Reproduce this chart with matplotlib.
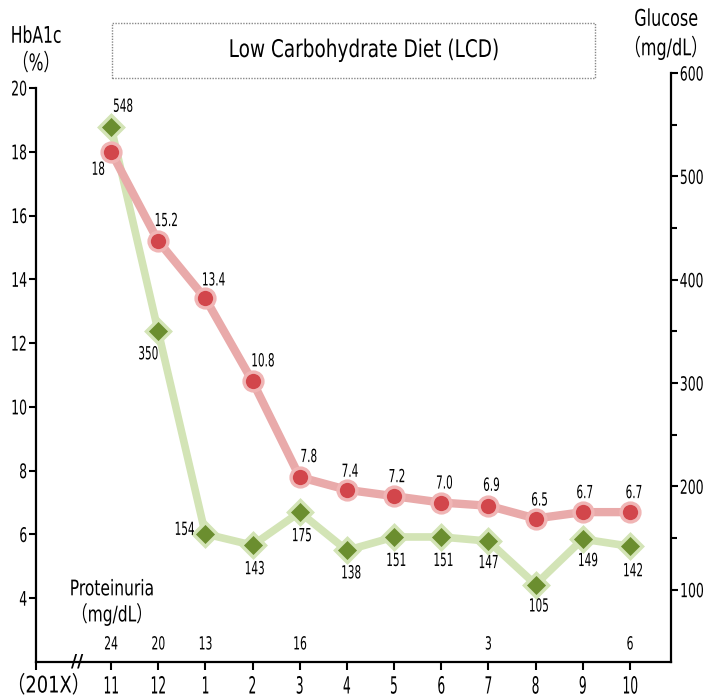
import numpy as np
import matplotlib
matplotlib.use('Agg')
import matplotlib.pyplot as plt
from matplotlib import font_manager
from matplotlib.patches import Rectangle
from matplotlib.patheffects import AbstractPathEffect
from matplotlib.transforms import Affine2D

names = {f.name for f in font_manager.fontManager.ttflist}
narrow = 'Liberation Sans Narrow' if 'Liberation Sans Narrow' in names else 'DejaVu Sans'
plt.rcParams['font.family'] = [narrow, 'Noto Sans CJK JP', 'DejaVu Sans']


class Squeeze(AbstractPathEffect):
    """Squeeze glyphs horizontally to mimic a condensed gothic font."""

    def __init__(self, sx, anchor='center'):
        super().__init__()
        self.sx = sx
        self.anchor = anchor

    def draw_path(self, renderer, gc, tpath, affine, rgbFace=None):
        ext = tpath.get_extents()
        if self.anchor == 'left':
            cx = ext.x0
        elif self.anchor == 'right':
            cx = ext.x1
        else:
            cx = (ext.x0 + ext.x1) / 2
        t = Affine2D().translate(-cx, 0).scale(self.sx, 1).translate(cx, 0) + affine
        renderer.draw_path(gc, tpath, t, rgbFace)


def sq(sx, anchor='center'):
    return [Squeeze(sx, anchor)]


months = ['11', '12', '1', '2', '3', '4', '5', '6', '7', '8', '9', '10']
hba1c = [18, 15.2, 13.4, 10.8, 7.8, 7.4, 7.2, 7.0, 6.9, 6.5, 6.7, 6.7]
hba1c_lbl = ['18', '15.2', '13.4', '10.8', '7.8', '7.4', '7.2', '7.0', '6.9', '6.5', '6.7', '6.7']
glucose = [548, 350, 154, 143, 175, 138, 151, 151, 147, 105, 149, 142]
prot_idx = [0, 1, 2, 4, 8, 11]
prot_vals = [24, 20, 13, 16, 3, 6]

# label offsets in pixels (dx, dy), dy positive = up
hb_off = [(-13, -18), (8, 20), (8, 18), (10, 20), (9, 20), (3, 18),
          (3, 19), (3, 19), (3, 20), (4, 18), (2, 19), (4, 19)]
gl_off = [(12, 20), (-10, -23), (-21, 4), (2, -24), (2, -24), (4, -23),
          (2, -24), (2, -24), (0, -22), (3, -22), (5, -22), (3, -25)]

x = np.arange(len(months))
W, H = 705, 698
fig = plt.figure(figsize=(W / 100, H / 100), dpi=100)

x0, x1 = 36, 671
ax1 = fig.add_axes([x0 / W, (H - 662) / H, (x1 - x0) / W, (662 - 88) / H])
ax2 = fig.add_axes([x0 / W, (H - 662) / H, (x1 - x0) / W, (662 - 73) / H])
ax2.patch.set_alpha(0)

xlim = (-1.59, 11.87)
for ax in (ax1, ax2):
    ax.set_xlim(*xlim)
ax1.set_ylim(2, 20)
ax2.set_ylim(30, 600)

for s in ['top', 'right']:
    ax1.spines[s].set_visible(False)
for s in ['top', 'left', 'bottom']:
    ax2.spines[s].set_visible(False)
ax1.spines['left'].set_linewidth(1.6)
ax1.spines['bottom'].set_linewidth(1.6)
ax2.spines['right'].set_linewidth(1.6)

ax1.set_yticks(np.arange(4, 21, 2))
ax1.tick_params(axis='y', labelsize=14.5, width=1.5, length=5, pad=1)
ax1.set_xticks(list(x) + [xlim[0]])
ax1.set_xticklabels(months + [''])
ax1.tick_params(axis='x', labelsize=17, width=1.5, length=6, pad=3)

ax2.set_xticks([])
ax2.yaxis.tick_right()
ax2.set_yticks(np.arange(100, 601, 100))
ax2.set_yticks(np.arange(150, 600, 100), minor=True)
ax2.tick_params(axis='y', which='major', labelsize=14, width=1.5, length=5, pad=1)
ax2.tick_params(axis='y', which='minor', width=1.5, length=4)

# glucose line (green) drawn under HbA1c
ax2.plot(x, glucose, color='#d3e4b6', lw=5.5, zorder=2)
ax2.plot(x, glucose, ls='none', marker='D', ms=12.5, mfc='#6b8e2f',
         mec='#d3e4b6', mew=2.5, zorder=3)
for xi, v, (dx, dy) in zip(x, glucose, gl_off):
    ax2.annotate(str(v), (xi, v), xytext=(dx, dy), textcoords='offset pixels',
                 ha='center', va='center', fontsize=13, zorder=6,
                 path_effects=sq(0.58))

ax1.set_zorder(3)
ax1.patch.set_alpha(0)
ax1.plot(x, hba1c, color='#e9aaaa', lw=6, zorder=4)
ax1.plot(x, hba1c, ls='none', marker='o', ms=13.5, mfc='#d2464b',
         mec='#f0b5b5', mew=2.5, zorder=5)
for xi, v, t, (dx, dy) in zip(x, hba1c, hba1c_lbl, hb_off):
    ax1.annotate(t, (xi, v), xytext=(dx, dy), textcoords='offset pixels',
                 ha='center', va='center', fontsize=13, zorder=6,
                 path_effects=sq(0.58))

for i, v in zip(prot_idx, prot_vals):
    ax1.text(x[i], 2.55, str(v), ha='center', va='center', fontsize=13,
             path_effects=sq(0.6))

ax1.text(0.02, 3.87, 'Proteinuria\n（mg/dL）', ha='center', va='center',
         fontsize=15.5, linespacing=1.2, path_effects=sq(0.72))
ax1.text(-0.72, 2.0, '//', ha='center', va='center', fontsize=12,
         fontweight='bold', clip_on=False)

fig.text(4 / W, 1 - 686 / H, '（201X）', ha='left', va='center',
         fontsize=16.5, path_effects=sq(0.78, 'left'))
fig.text(36 / W, 1 - 50 / H, 'HbA1c\n（%）', ha='center', va='center',
         fontsize=16.5, linespacing=1.25, path_effects=sq(0.68))
fig.text(666 / W, 1 - 34 / H, 'Glucose\n（mg/dL）', ha='center', va='center',
         fontsize=16.5, linespacing=1.25, path_effects=sq(0.7))

fig.patches.append(Rectangle((112 / W, 1 - 78 / H), (595 - 112) / W, (78 - 23) / H,
                             transform=fig.transFigure, fill=False,
                             ec='#888888', lw=1, ls=(0, (1, 1))))
fig.text(364 / W, 1 - 50 / H, 'Low Carbohydrate Diet (LCD)', ha='center',
         va='center', fontsize=17.5, path_effects=sq(0.76))

fig.canvas.draw()
for lbl in ax1.get_xticklabels():
    lbl.set_path_effects(sq(0.52))
for lbl in ax1.get_yticklabels():
    lbl.set_path_effects(sq(0.62, 'right'))
for lbl in ax2.get_yticklabels():
    lbl.set_path_effects(sq(0.64, 'left'))

fig.savefig('out.png', dpi=100)
